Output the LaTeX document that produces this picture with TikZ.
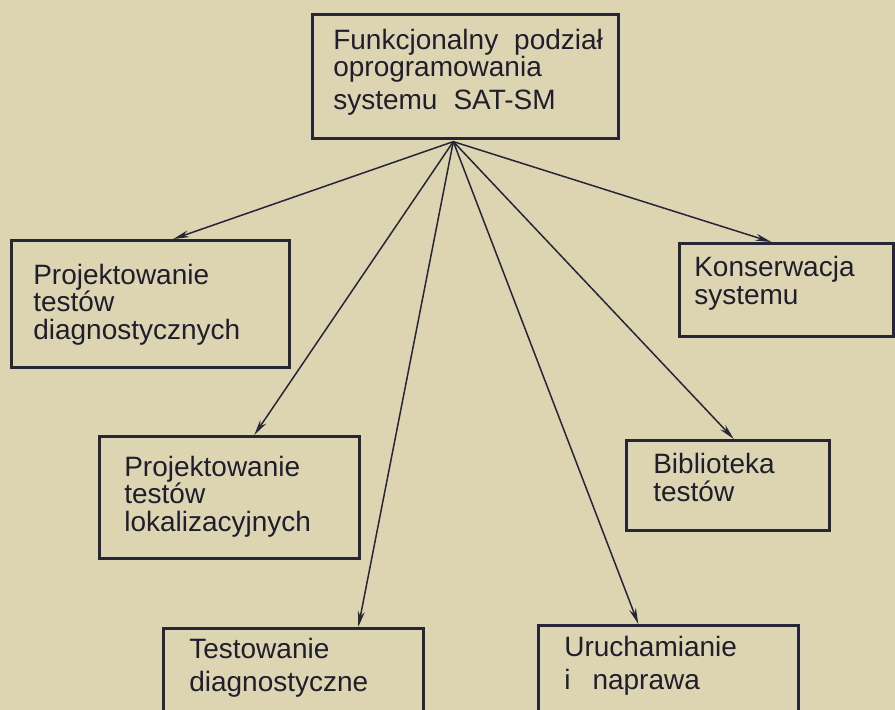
\documentclass[tikz,border=0pt]{standalone}
\usepackage{fontspec}
\setmainfont{Liberation Sans}
\usetikzlibrary{arrows.meta}
\definecolor{paper}{RGB}{221,213,178}
\definecolor{ink}{RGB}{38,38,56}
\tikzset{
  box/.style={draw=ink, line width=2.6pt, anchor=north west, inner ysep=0pt,
    align=left, text=ink!80!black, font=\fontsize{28}{25}\selectfont},
  feed/.style={ink, line width=1.5pt, ->, >={Stealth[length=16pt,width=7pt]}}
}

\begin{document}
\begin{tikzpicture}[x=1pt,y=-1pt]
\fill[paper] (0,0) rectangle (895,710);
\useasboundingbox (0,0) rectangle (895,710);
% boxes
\node[box, inner xsep=21pt, text width=264pt, text height=35pt, text depth=89pt] (root) at (311,13)
  {\makebox[264pt][l]{Funkcjonalny\hspace{16pt}podział}\\oprogramowania\\[7pt]systemu\hspace{16pt}SAT-SM};
\node[box, inner xsep=22pt, text width=234pt, text height=44pt, text depth=83pt] (diag) at (10,239)
  {Projektowanie\\testów\\[3pt]diagnostycznych};
\node[box, inner xsep=15pt, text width=184pt, text height=33pt, text depth=60pt] (kons) at (678,242)
  {Konserwacja\\[3pt]systemu};
\node[box, inner xsep=25pt, text width=210pt, text height=40pt, text depth=82pt] (lok) at (98,435)
  {Projektowanie\\testów\\[3pt]lokalizacyjnych};
\node[box, inner xsep=27pt, text width=149pt, text height=33pt, text depth=57pt] (bibl) at (625,439)
  {Biblioteka\\[3pt]testów};
\node[box, inner xsep=26pt, text width=208pt, text height=30pt, text depth=80pt] (test) at (162,627)
  {Testowanie\\[8pt]diagnostyczne};
\node[box, inner xsep=26pt, text width=208pt, text height=31pt, text depth=80pt] (uruch) at (537,624)
  {Uruchamianie\\[8pt]i\hspace{22pt}naprawa};
% arrows
\coordinate (hub) at ([xshift=-12pt,yshift=-2pt]root.south);
\draw[feed] (hub) -- ([xshift=23pt]diag.north);
\draw[feed] (hub) -- ([xshift=25pt]lok.north);
\draw[feed] (hub) -- ([xshift=65pt]test.north);
\draw[feed] (hub) -- ([xshift=-30pt]uruch.north);
\draw[feed] (hub) -- ([xshift=6pt]bibl.north);
\draw[feed] (hub) -- ([xshift=-15pt]kons.north);
\end{tikzpicture}
\end{document}
